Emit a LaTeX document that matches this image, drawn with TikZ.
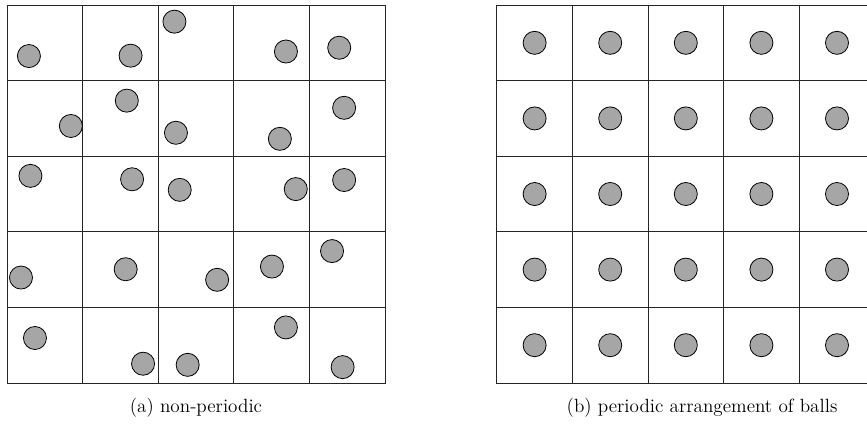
\documentclass[tikz,border=0pt]{standalone}
\usepackage{tikz}
\usetikzlibrary{
    positioning
}

\tikzset{
    ball/.style={circle, draw=black, fill=black!35, line width=0.6pt,
        minimum size=0.61cm, inner sep=0pt},
    cellgrid/.style={line width=0.6pt, draw=black!85},
    subcaption/.style={font=\Large, inner sep=0pt}
}

\begin{document}
\begin{tikzpicture}
    \clip (-0.185,-1.111) rectangle (22.754,10.133);

    % (a) non-periodic
    \draw[cellgrid] (0,0) grid[step=2] (10,10);
    \draw[cellgrid] (0,0) rectangle (10,10);
    \foreach \x/\y [count=\i] in {
        0.58/8.65, 3.27/8.66, 4.43/9.56, 7.38/8.77, 8.79/8.87,
        1.69/6.80, 3.17/7.47, 4.47/6.62, 7.22/6.46, 8.92/7.28,
        0.62/5.48, 3.31/5.39, 4.57/5.11, 7.64/5.13, 8.92/5.37,
        0.37/2.79, 3.14/3.01, 5.56/2.73, 7.01/3.08, 8.60/3.49,
        0.74/1.19, 3.60/0.51, 4.78/0.48, 7.38/1.47, 8.88/0.42}
        \node[ball] (a\i) at (\x,\y) {};
    \node[subcaption] (capa) at (5,-0.66) {(a) non-periodic};

    % (b) periodic arrangement
    \begin{scope}[xshift=12.96cm]
        \draw[cellgrid] (0,0) grid[step=2] (10,10);
        \draw[cellgrid] (0,0) rectangle (10,10);
        \foreach \c in {0,...,4}
            \foreach \r in {0,...,4}
                \node[ball] (b\c\r) at (2*\c+1,2*\r+1) {};
    \end{scope}
    \node[subcaption] (capb) at (18.39,-0.66) {(b) periodic arrangement of balls};
\end{tikzpicture}
\end{document}
